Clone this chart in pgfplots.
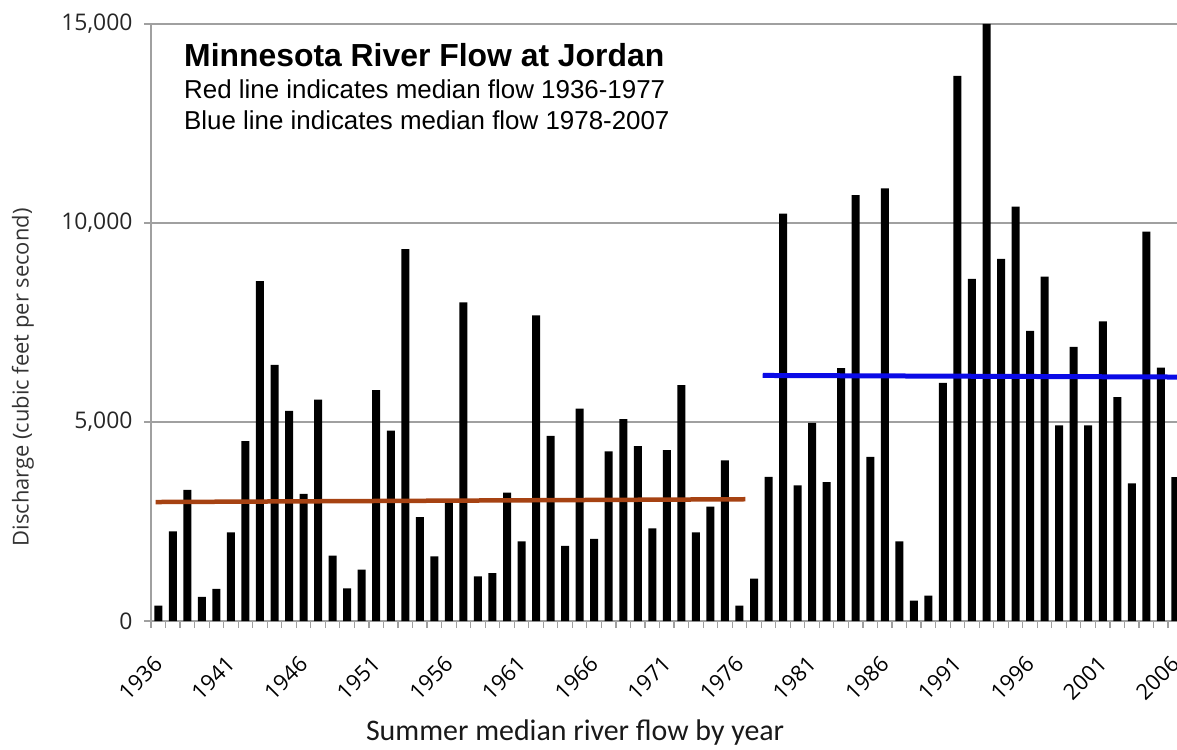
\documentclass[border=0pt]{standalone}
\usepackage{pgfplots}
\pgfplotsset{compat=1.18}
\usepackage{pgfplotstable}
\usepackage{fontspec}
\setmainfont{Liberation Sans}
\newfontfamily\opensans{Open Sans}
\newfontfamily\carlito{Carlito}
\definecolor{redline}{HTML}{A64212}
\definecolor{blueline}{HTML}{0A0AE6}
\definecolor{gridgray}{HTML}{A0A0A0}

\pgfplotstableread{
year flow
1936 390
1937 2250
1938 3296
1939 606
1940 811
1941 2228
1942 4517
1943 8542
1944 6437
1945 5277
1946 3193
1947 5565
1948 1643
1949 821
1950 1294
1951 5801
1952 4784
1953 9343
1954 2608
1955 1622
1956 3030
1957 8008
1958 1119
1959 1201
1960 3224
1961 2002
1962 7680
1963 4651
1964 1889
1965 5339
1966 2064
1967 4261
1968 5072
1969 4394
1970 2331
1971 4292
1972 5924
1973 2228
1974 2875
1975 4035
1976 390
1977 1068
1978 3624
1979 10236
1980 3409
1981 4979
1982 3491
1983 6355
1984 10698
1985 4127
1986 10873
1987 2002
1988 513
1989 637
1990 5986
1991 13696
1992 8594
1993 15000
1994 9097
1995 10411
1996 7290
1997 8655
1998 4918
1999 6889
2000 4918
2001 7526
2002 5626
2003 3460
2004 9784
2005 6366
2006 3614
}\flowdata

\begin{document}
\begin{tikzpicture}
\begin{axis}[
  scale only axis, width=1026bp, height=597bp,
  xmin=1935.5, xmax=2006.11, ymin=0, ymax=15000,
  scaled x ticks=false, scaled y ticks=false,
  axis lines*=left,
  axis line style={gridgray, line width=1.5bp},
  ymajorgrids, grid style={gridgray, line width=1.2bp},
  tick align=outside, major tick length=7bp,
  tick style={gridgray, line width=1.2bp},
  ytick={0,5000,10000,15000},
  yticklabels={0,{5,000},{10,000},{15,000}},
  yticklabel style={font=\opensans\fontsize{23}{23}\selectfont, text=black!85, xshift=-8bp},
  xtick={1935.5,1936.5,...,2006.5},
  xticklabel=\empty,
  extra x ticks={1936,1941,...,2006},
  extra x tick labels={1936,1941,1946,1951,1956,1961,1966,1971,1976,1981,1986,1991,1996,2001,2006},
  extra x tick style={major tick length=0pt,
    xticklabel style={font=\opensans\fontsize{22}{22}\selectfont, text=black,
      yshift=-39bp, xshift=0bp, rotate=45, anchor=east, inner sep=0bp}},
  ylabel={Discharge (cubic feet per second)},
  ylabel style={font=\opensans\fontsize{22}{22}\selectfont, text=black!80,
    at={(axis description cs:-0.1248,0.408)}, anchor=center},
  xlabel={Summer median river flow by year},
  xlabel style={font=\carlito\fontsize{30}{30}\selectfont, text=black!90,
    at={(axis description cs:0.4133,-0.186)}, anchor=center},
]
\addplot[ybar, bar width=8bp, fill=black, draw=none] table[x=year, y=flow] {\flowdata};
\addplot[redline, line width=4.5bp] coordinates {(1935.82,2990) (1976.4,3060)};
\addplot[blueline, line width=5bp] coordinates {(1977.6,6170) (2006.3,6130)};
\end{axis}
\node[anchor=base west, inner sep=0pt, font=\bfseries\fontsize{32}{32}\selectfont] at ([xshift=33bp,yshift=-43bp]current axis.north west) {Minnesota River Flow at Jordan};
\node[anchor=base west, inner sep=0pt, font=\fontsize{26}{26}\selectfont] at ([xshift=33bp,yshift=-75bp]current axis.north west) {Red line indicates median flow 1936-1977};
\node[anchor=base west, inner sep=0pt, font=\fontsize{26}{26}\selectfont] at ([xshift=33bp,yshift=-105bp]current axis.north west) {Blue line indicates median flow 1978-2007};
\pgfresetboundingbox
\useasboundingbox ([xshift=-151bp,yshift=-128bp]current axis.south west) rectangle ([yshift=24bp]current axis.north east);
\end{tikzpicture}
\end{document}
